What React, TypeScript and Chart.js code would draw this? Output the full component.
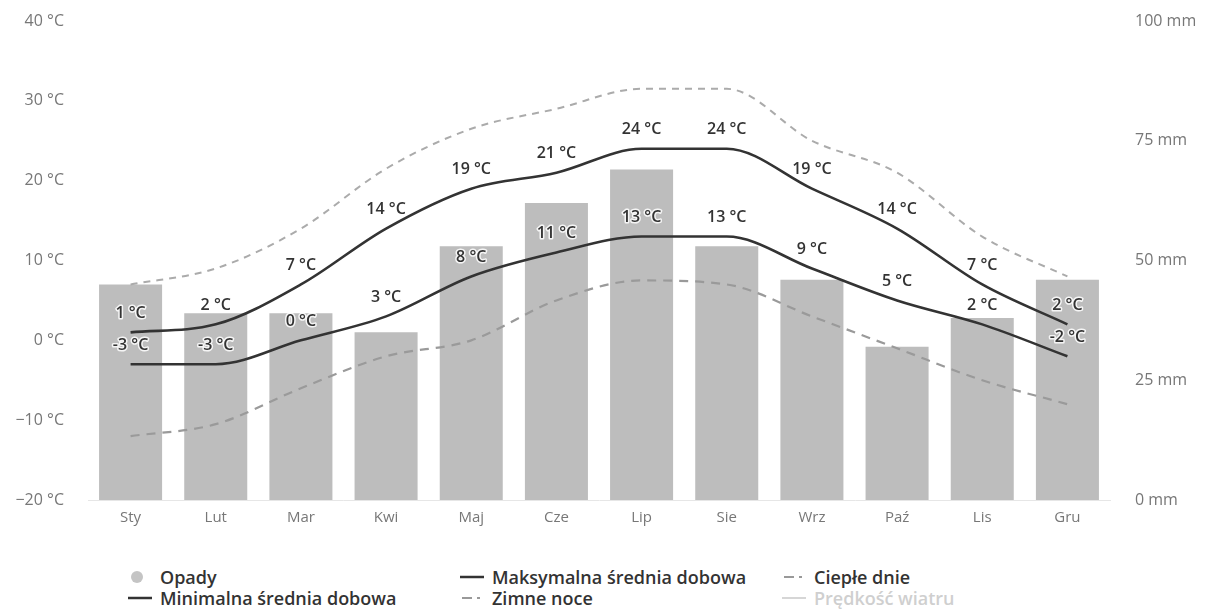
import React, { useEffect, useRef } from "react";
import { Chart, registerables } from "chart.js";

Chart.register(...registerables);

const months = ["Sty", "Lut", "Mar", "Kwi", "Maj", "Cze", "Lip", "Sie", "Wrz", "Paź", "Lis", "Gru"];
const precipitation = [45, 39, 39, 35, 53, 62, 69, 53, 46, 32, 38, 46];
const maxDaily = [1, 2, 7, 14, 19, 21, 24, 24, 19, 14, 7, 2];
const minDaily = [-3, -3, 0, 3, 8, 11, 13, 13, 9, 5, 2, -2];
const warmDays = [7, 9, 14, 21.5, 26.5, 29, 31.5, 31.5, 25, 21, 13, 8];
const coldNights = [-12, -10.5, -6, -2, 0, 5, 7.5, 7, 3, -1, -5, -8];
const tempTicks = [-20, -10, 0, 10, 20, 30, 40];
const precipTicks = [0, 25, 50, 75, 100];
const legendLabels = [
  "Opady",
  "Maksymalna średnia dobowa",
  "Ciepłe dnie",
  "Minimalna średnia dobowa",
  "Zimne noce",
  "Prędkość wiatru",
];

const FONT = "'Open Sans', 'DejaVu Sans', sans-serif";

const labelPlugin = {
  id: "tempLabels",
  afterDatasetsDraw(chart: any) {
    const ctx = chart.ctx;
    [1, 2].forEach((di) => {
      const meta = chart.getDatasetMeta(di);
      const data = chart.data.datasets[di].data as number[];
      meta.data.forEach((pt: any, i: number) => {
        const text = `${data[i]} °C`;
        ctx.save();
        ctx.font = `600 16px ${FONT}`;
        ctx.textAlign = "center";
        ctx.textBaseline = "middle";
        ctx.lineJoin = "round";
        ctx.lineWidth = 3;
        ctx.strokeStyle = "rgba(255,255,255,0.85)";
        ctx.strokeText(text, pt.x, pt.y - 19);
        ctx.fillStyle = "#333";
        ctx.fillText(text, pt.x, pt.y - 19);
        ctx.restore();
      });
    });
  },
};

function Marker({ kind }: { kind: string }) {
  if (kind === "circle") {
    return (
      <svg width="26" height="14" style={{ display: "block" }}>
        <circle cx="9" cy="7" r="6" fill="#c4c4c4" />
      </svg>
    );
  }
  if (kind === "solid") {
    return (
      <svg width="26" height="14" style={{ display: "block" }}>
        <line x1="0" y1="7" x2="24" y2="7" stroke="#333" strokeWidth="2.5" />
      </svg>
    );
  }
  if (kind === "light") {
    return (
      <svg width="26" height="14" style={{ display: "block" }}>
        <line x1="0" y1="7" x2="24" y2="7" stroke="#d6d6d6" strokeWidth="2" />
      </svg>
    );
  }
  return (
    <svg width="26" height="14" style={{ display: "block" }}>
      <line x1="2" y1="7" x2="12" y2="7" stroke="#999" strokeWidth="2" />
      <line x1="17" y1="7" x2="20" y2="7" stroke="#999" strokeWidth="2" />
    </svg>
  );
}

export default function App() {
  const ref = useRef<HTMLCanvasElement | null>(null);

  useEffect(() => {
    if (!ref.current) return;
    const chart = new Chart(ref.current, {
      type: "bar",
      data: {
        labels: months,
        datasets: [
          {
            type: "bar",
            label: "Opady",
            data: precipitation,
            yAxisID: "y1",
            backgroundColor: "#bdbdbd",
            barPercentage: 0.74,
            categoryPercentage: 1.0,
            order: 10,
          } as any,
          {
            type: "line",
            label: "Maksymalna średnia dobowa",
            data: maxDaily,
            yAxisID: "y",
            borderColor: "#333",
            borderWidth: 2.6,
            pointRadius: 0,
            cubicInterpolationMode: "monotone",
            order: 1,
          },
          {
            type: "line",
            label: "Minimalna średnia dobowa",
            data: minDaily,
            yAxisID: "y",
            borderColor: "#333",
            borderWidth: 2.6,
            pointRadius: 0,
            cubicInterpolationMode: "monotone",
            order: 2,
          },
          {
            type: "line",
            label: "Ciepłe dnie",
            data: warmDays,
            yAxisID: "y",
            borderColor: "#ababab",
            borderWidth: 2,
            borderDash: [7, 6],
            pointRadius: 0,
            cubicInterpolationMode: "monotone",
            order: 3,
          },
          {
            type: "line",
            label: "Zimne noce",
            data: coldNights,
            yAxisID: "y",
            borderColor: "#9a9a9a",
            borderWidth: 2.2,
            borderDash: [9, 7],
            pointRadius: 0,
            cubicInterpolationMode: "monotone",
            order: 4,
          },
        ],
      },
      options: {
        responsive: false,
        animation: false,
        layout: { padding: { top: 21, left: 0, right: 0, bottom: 0 } },
        plugins: {
          legend: { display: false },
          tooltip: { enabled: false },
        },
        scales: {
          x: {
            grid: { display: false, drawTicks: false },
            border: { display: true, color: "#e6e6e6" },
            ticks: { color: "#777", font: { family: FONT, size: 15 }, padding: 9 },
            afterFit: (s: any) => {
              s.height = 40;
            },
          },
          y: {
            position: "left",
            min: tempTicks[0],
            max: tempTicks[tempTicks.length - 1],
            afterBuildTicks: (s: any) => {
              s.ticks = tempTicks.map((v) => ({ value: v }));
            },
            grid: { display: false, drawTicks: false },
            border: { display: false },
            ticks: {
              color: "#777",
              font: { family: FONT, size: 16 },
              padding: 24,
              callback: (v: any) => `${String(v).replace("-", "\u2212")} °C`,
            },
            afterFit: (s: any) => {
              s.width = 88;
              s.paddingTop = 0;
              s.paddingBottom = 0;
            },
          },
          y1: {
            position: "right",
            min: precipTicks[0],
            max: precipTicks[precipTicks.length - 1],
            afterBuildTicks: (s: any) => {
              s.ticks = precipTicks.map((v) => ({ value: v }));
            },
            grid: { display: false, drawTicks: false },
            border: { display: false },
            ticks: {
              color: "#777",
              font: { family: FONT, size: 16 },
              padding: 25,
              callback: (v: any) => `${v} mm`,
            },
            afterFit: (s: any) => {
              s.width = 97;
              s.paddingTop = 0;
              s.paddingBottom = 0;
            },
          },
        },
      } as any,
      plugins: [labelPlugin],
    });
    return () => chart.destroy();
  }, []);

  const cols = [128, 460, 782];
  const rows = [577, 598];
  const kinds = ["circle", "solid", "dash", "solid", "dash", "light"];

  return (
    <div
      style={{
        position: "absolute",
        left: 0,
        top: 0,
        width: 1207,
        height: 610,
        background: "#fff",
        overflow: "hidden",
      }}
    >
      <canvas ref={ref} width={1207} height={540} style={{ display: "block" }} />
      {legendLabels.map((lab, i) => {
        const col = i % 3;
        const row = Math.floor(i / 3);
        return (
          <div
            key={lab}
            style={{
              position: "absolute",
              left: cols[col],
              top: rows[row] - 11,
              height: 22,
              display: "flex",
              alignItems: "center",
              fontFamily: FONT,
              fontWeight: 600,
              fontSize: 18,
              color: i === 5 ? "#cfcfcf" : "#333",
              whiteSpace: "nowrap",
            }}
          >
            <Marker kind={kinds[i]} />
            <span style={{ marginLeft: 6 }}>{lab}</span>
          </div>
        );
      })}
    </div>
  );
}
